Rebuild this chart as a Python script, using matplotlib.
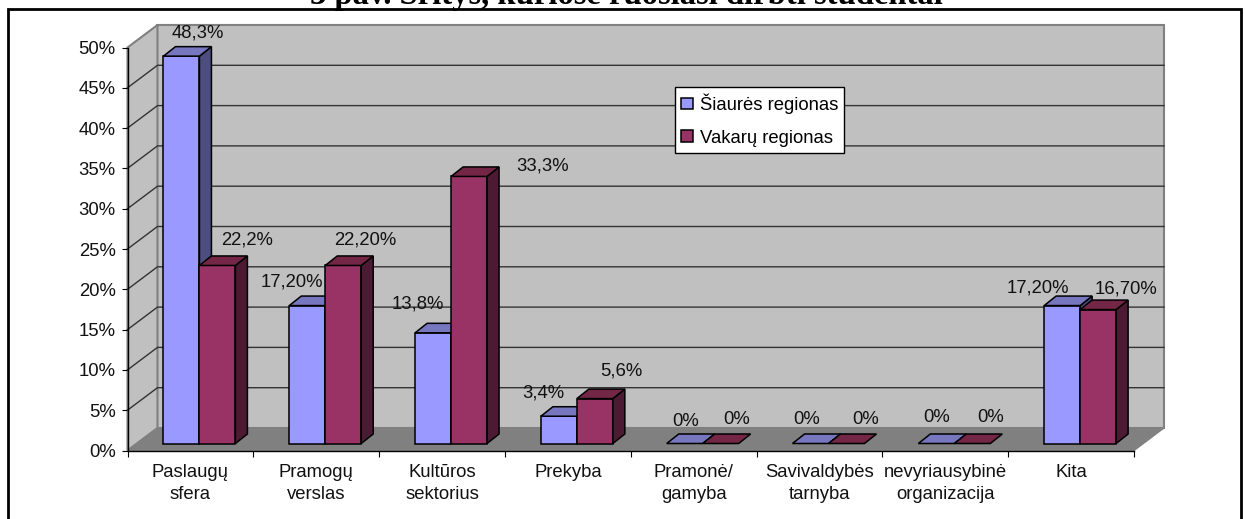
#!/usr/bin/env python

import matplotlib
matplotlib.use("Agg")
import matplotlib.pyplot as plt
from matplotlib.patches import Patch, Polygon

plt.rcParams['font.family'] = ['Liberation Sans', 'DejaVu Sans']

categories = ['Paslaugų\nsfera', 'Pramogų\nverslas', 'Kultūros\nsektorius', 'Prekyba',
              'Pramonė/\ngamyba', 'Savivaldybės\ntarnyba', 'nevyriausybinė\norganizacija', 'Kita']
siaures = [48.3, 17.2, 13.8, 3.4, 0, 0, 0, 17.2]
vakaru = [22.2, 22.2, 33.3, 5.6, 0, 0, 0, 16.7]
siaures_labels = ['48,3%', '17,20%', '13,8%', '3,4%', '0%', '0%', '0%', '17,20%']
vakaru_labels = ['22,2%', '22,20%', '33,3%', '5,6%', '0%', '0%', '0%', '16,70%']
y_ticks = [0, 5, 10, 15, 20, 25, 30, 35, 40, 45, 50]

# label shift from the top left corner of the bar, in pixels (x right, y up)
siaures_shift = [(34.5, 23), (2.6, 23.5), (2.7, 29), (2.8, 23), (19, 21.5), (14, 24.5), (18, 26.5), (-5.8, 17.5)]
vakaru_shift = [(47.5, 25.5), (39.6, 25.5), (91.7, 10.5), (44.8, 27.6), (34, 24.5), (37, 23.5), (36, 26.5), (46, 20.6)]

W, H = 1245, 519
COL_W = 125.9       # px for one category
PX_Y = 8.06         # px for one percent
FS = 13.3
TXT = '#111111'
BLUE = ('#9999FF', '#7777BF', '#4D4D80')
RED = ('#993366', '#732645', '#4D1A33')

fig = plt.figure(figsize=(W / 100, H / 100), dpi=100, facecolor='white')
ax = fig.add_axes([127.5 / W, 1 - 450.5 / H, (1134 - 127.5) / W, 403 / H])
ax.set_xlim(0, 8)
ax.set_ylim(0, 50)
ax.patch.set_visible(False)

wall_dx, wall_dy = 30 / COL_W, 22.5 / PX_Y
bar_dx, bar_dy = 12 / COL_W, 9.5 / PX_Y
start = 36 / COL_W
bar_w = 36 / COL_W
lift = 7 / PX_Y
scale = 0.995


def poly(pts, **kw):
    ax.add_patch(Polygon(pts, closed=True, clip_on=False, **kw))


# walls and floor
poly([(wall_dx, wall_dy), (8 + wall_dx, wall_dy), (8 + wall_dx, 50 + wall_dy), (wall_dx, 50 + wall_dy)],
     fc='#C0C0C0', ec='#808080', lw=1.5, zorder=1)
poly([(0, 0), (wall_dx, wall_dy), (wall_dx, 50 + wall_dy), (0, 50)],
     fc='#C0C0C0', ec='#808080', lw=1.5, zorder=1)
poly([(0, 0), (8, 0), (8 + wall_dx, wall_dy), (wall_dx, wall_dy)],
     fc='#808080', ec='#808080', lw=1, zorder=1)

# grid runs along the side wall and then the back wall
for t in y_ticks[1:-1]:
    ax.plot([0, wall_dx, 8 + wall_dx], [t, t + wall_dy, t + wall_dy], color='#333333', lw=1,
            clip_on=False, zorder=2, solid_joinstyle='miter')


def draw_bar(x, v, cols):
    top = lift + v * scale
    if v > 0:
        ax.bar(x, v * scale, bar_w, bottom=lift, align='edge', color=cols[0], ec='black', lw=1.1, zorder=3)
        poly([(x + bar_w, lift), (x + bar_w + bar_dx, lift + bar_dy),
              (x + bar_w + bar_dx, top + bar_dy), (x + bar_w, top)],
             fc=cols[2], ec='black', lw=1.1, zorder=3)
    poly([(x, top), (x + bar_w, top), (x + bar_w + bar_dx, top + bar_dy), (x + bar_dx, top + bar_dy)],
         fc=cols[1], ec='black', lw=1.1, zorder=3)


for i in range(len(categories)):
    x0 = i + start
    x1 = x0 + bar_w
    draw_bar(x0, siaures[i], BLUE)
    draw_bar(x1, vakaru[i], RED)
    ax.annotate(siaures_labels[i], (x0, lift + siaures[i] * scale), xytext=siaures_shift[i],
                textcoords='offset pixels', ha='center', va='center', fontsize=FS,
                color=TXT, zorder=5, annotation_clip=False)
    ax.annotate(vakaru_labels[i], (x1, lift + vakaru[i] * scale), xytext=vakaru_shift[i],
                textcoords='offset pixels', ha='center', va='center', fontsize=FS,
                color=TXT, zorder=5, annotation_clip=False)

for s in ['top', 'right']:
    ax.spines[s].set_visible(False)
for s in ['left', 'bottom']:
    ax.spines[s].set_linewidth(1)
    ax.spines[s].set_zorder(4)

ax.set_xticks(range(9))
ax.set_xticklabels([])
ax.set_xticks([i + 0.5 for i in range(8)], minor=True)
ax.set_xticklabels(categories, minor=True, fontsize=FS, linespacing=1.38, color=TXT)
ax.tick_params(axis='x', which='major', length=4.5, width=0.8)
ax.tick_params(axis='x', which='minor', length=0, pad=10)
ax.set_yticks(y_ticks)
ax.set_yticklabels([f'{t}%' for t in y_ticks], fontsize=FS, color=TXT)
ax.tick_params(axis='y', length=4.5, width=0.8, pad=4)

handles = [Patch(fc=BLUE[0], ec='black', lw=1.1), Patch(fc=RED[0], ec='black', lw=1.1)]
leg = ax.legend(handles, ['Šiaurės regionas', 'Vakarų regionas'], loc='upper left', mode='expand',
                bbox_to_anchor=(675 / W, 1 - 148 / H, 169 / W, 61 / H), bbox_transform=fig.transFigure,
                borderaxespad=0, fontsize=FS, fancybox=False, framealpha=1, edgecolor='black',
                handlelength=0.6, handleheight=0.6, handletextpad=0.4, labelspacing=0.85, borderpad=0.35)
leg.set_zorder(6)
leg.get_frame().set_linewidth(1)

# frame around the chart, open at the bottom
fig.add_artist(plt.Line2D([8 / W, 8 / W, 1241 / W, 1241 / W], [0, 1 - 9 / H, 1 - 9 / H, 0],
                          color='black', lw=2, solid_joinstyle='miter'))

fig.text(626 / W, 1 - 4 / H, '3 pav. Sritys, kuriose ruošiasi dirbti studentai', ha='center', va='baseline',
         family='Liberation Serif', fontweight='bold', fontsize=23.5)

fig.savefig('out.png', dpi=100)
